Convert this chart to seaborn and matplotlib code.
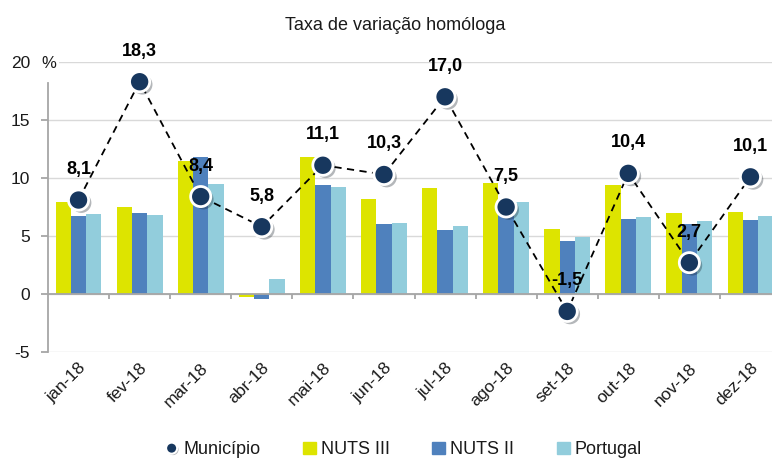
import numpy as np
import pandas as pd
import matplotlib.pyplot as plt
import matplotlib.patheffects as pe
from matplotlib.lines import Line2D
from matplotlib.patches import Patch
import seaborn as sns

# data
meses = ['jan-18', 'fev-18', 'mar-18', 'abr-18', 'mai-18', 'jun-18',
         'jul-18', 'ago-18', 'set-18', 'out-18', 'nov-18', 'dez-18']
municipio = [8.1, 18.3, 8.4, 5.8, 11.1, 10.3, 17.0, 7.5, -1.5, 10.4, 2.7, 10.1]
nuts3 = [7.9, 7.5, 11.5, -0.3, 11.8, 8.2, 9.1, 9.6, 5.6, 9.4, 7.0, 7.1]
nuts2 = [6.7, 7.0, 11.8, -0.4, 9.4, 6.0, 5.5, 7.0, 4.6, 6.5, 6.0, 6.4]
portugal = [6.9, 6.8, 9.5, 1.3, 9.2, 6.1, 5.9, 7.9, 4.9, 6.6, 6.3, 6.7]
series = ['NUTS III', 'NUTS II', 'Portugal']
cores = {'NUTS III': '#DDE400', 'NUTS II': '#4F81BD', 'Portugal': '#92CDDC'}
cor_mun = '#17375E'

df = pd.DataFrame({'mes': meses * 3,
                   'valor': nuts3 + nuts2 + portugal,
                   'serie': ['NUTS III'] * 12 + ['NUTS II'] * 12 + ['Portugal'] * 12})

sns.set_theme(style='white')
plt.rcParams['font.family'] = ['Liberation Sans', 'DejaVu Sans']

fig = plt.figure(figsize=(7.72, 4.62), dpi=100)
ax = fig.add_axes([48 / 772, 1 - 352 / 462, 733 / 772, 290 / 462])

sns.barplot(data=df, x='mes', y='valor', hue='serie', hue_order=series,
            palette=cores, width=0.75, gap=0, saturation=1, linewidth=0,
            ax=ax, legend=False)

x = np.arange(len(meses))
ax.plot(x, municipio, color='black', ls=(0, (4, 3)), lw=1.3, zorder=4)
ax.plot(x, municipio, ls='none', marker='o', ms=14.5, mfc=cor_mun, mec='white', mew=2,
        zorder=5, path_effects=[pe.SimplePatchShadow(offset=(2, -2), alpha=0.3), pe.Normal()])

for xi, v in zip(x, municipio):
    ax.annotate(f'{v:.1f}'.replace('.', ','), (xi, v), xytext=(0, 22), textcoords='offset points',
                ha='center', va='center', fontsize=13, fontweight='bold', color='black', zorder=6)

ax.set_xlim(-0.5, 11.5)
ax.set_ylim(-5, 20)
ax.set_yticks([-5, 0, 5, 10, 15, 20])
ax.set_yticklabels(['-5', '0', '5', '10', '15', '20'])
ax.grid(axis='y', color='#D9D9D9', lw=1)
ax.set_axisbelow(True)
ax.axhline(0, color='#A6A6A6', lw=1.3, zorder=3)
ax.vlines(np.arange(0.5, 11.5), -0.45, 0, color='#A6A6A6', lw=1.3, zorder=3)

for s in ['top', 'right', 'bottom']:
    ax.spines[s].set_visible(False)
ax.spines['left'].set_color('#A6A6A6')
ax.spines['left'].set_linewidth(1.3)
ax.spines['left'].set_bounds(-5, 18.2)

ax.tick_params(axis='y', left=True, length=5, width=1.3, color='#A6A6A6', labelsize=12.5,
               labelcolor='#1A1A1A', pad=8)
ax.tick_params(axis='x', length=0, labelsize=12.5, labelcolor='#1A1A1A', pad=6)
plt.setp(ax.get_xticklabels(), rotation=45, ha='right', rotation_mode='anchor')
ax.set_xlabel('')
ax.set_ylabel('')

ax.text(-0.48, 19.85, '%', ha='center', va='center', fontsize=12, color='#1A1A1A',
        bbox=dict(facecolor='white', edgecolor='none', pad=2))
fig.text(0.512, 0.945, 'Taxa de variação homóloga', ha='center', va='center', fontsize=13,
         color='#1A1A1A')

handles = [Line2D([], [], ls='none', marker='o', ms=8, mfc=cor_mun, mec='white', mew=1.5,
                  path_effects=[pe.SimplePatchShadow(offset=(1, -1), alpha=0.3), pe.Normal()])]
handles += [Patch(color=cores[s]) for s in series]
fig.legend(handles, ['Município'] + series, loc='center', bbox_to_anchor=(0.523, 0.026), ncol=4,
           frameon=False, fontsize=13, handlelength=0.7, handletextpad=0.3, columnspacing=2.35,
           labelcolor='#1A1A1A')

fig.savefig('out.png', dpi=100)
